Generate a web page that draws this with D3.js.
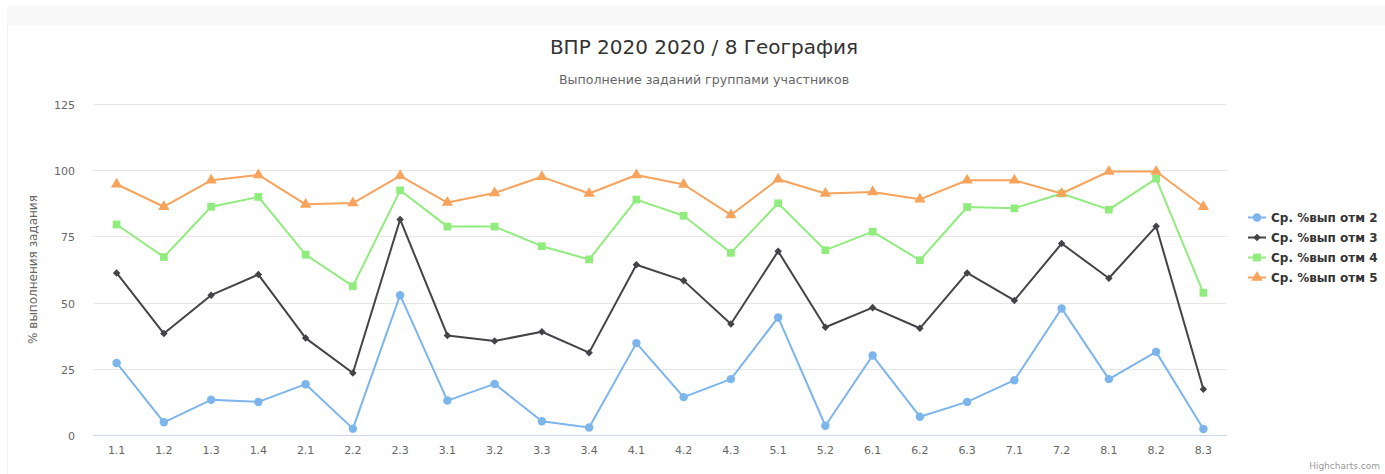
<!DOCTYPE html>
<html>
<head>
<meta charset="utf-8">
<script src="https://cdn.jsdelivr.net/npm/d3@7"></script>
<style>
  body { margin: 0; background: #fff; }
  text { font-family: "DejaVu Sans", "Lucida Grande", Arial, sans-serif; }
</style>
</head>
<body>
<div id="vis"></div>
<script>
// chart size
var width = 1385;
var height = 474;

// data
var categories = ["1.1","1.2","1.3","1.4","2.1","2.2","2.3","3.1","3.2","3.3","3.4","4.1","4.2","4.3","5.1","5.2","6.1","6.2","6.3","7.1","7.2","8.1","8.2","8.3"];
var mark2 = [27.2, 4.8, 13.3, 12.5, 19.2, 2.4, 52.8, 13.0, 19.3, 5.2, 2.8, 34.7, 14.3, 21.1, 44.4, 3.5, 30.0, 6.9, 12.5, 20.7, 47.8, 21.1, 31.4, 2.3];
var mark3 = [61.2, 38.3, 52.8, 60.6, 36.6, 23.4, 81.4, 37.6, 35.5, 39.0, 31.1, 64.3, 58.3, 41.9, 69.4, 40.7, 48.1, 40.3, 61.2, 50.8, 72.3, 59.2, 78.8, 17.3];
var mark4 = [79.5, 67.2, 86.2, 89.9, 68.1, 56.2, 92.4, 78.7, 78.7, 71.3, 66.3, 88.9, 82.8, 68.8, 87.5, 69.8, 76.8, 66.0, 86.1, 85.6, 91.2, 85.1, 96.8, 53.7];
var mark5 = [94.7, 86.2, 96.2, 98.2, 87.1, 87.6, 97.9, 87.8, 91.4, 97.5, 91.2, 98.2, 94.6, 83.1, 96.6, 91.2, 91.8, 89.0, 96.2, 96.2, 91.2, 99.5, 99.5, 86.2];
var yTicks = [0, 25, 50, 75, 100, 125];

var series = [
  {name: "Ср. %вып отм 2", values: mark2, color: "#7cb5ec", symbol: d3.symbolCircle, size: 56},
  {name: "Ср. %вып отм 3", values: mark3, color: "#434348", symbol: d3.symbolDiamond2, size: 36},
  {name: "Ср. %вып отм 4", values: mark4, color: "#90ed7d", symbol: d3.symbolSquare, size: 60},
  {name: "Ср. %вып отм 5", values: mark5, color: "#f7a35c", symbol: d3.symbolTriangle, size: 56}
];

var plot = {left: 93, right: 1227, top: 104, bottom: 435};

var svg = d3.select("#vis").append("svg")
  .attr("width", width)
  .attr("height", height);

// container frame
svg.append("rect")
  .attr("x", 7).attr("y", 6)
  .attr("width", width - 7).attr("height", 19)
  .attr("fill", "#f8f8f8");
svg.append("line")
  .attr("x1", 7.5).attr("x2", 7.5)
  .attr("y1", 25).attr("y2", height)
  .attr("stroke", "#f2f2f2");

// title and subtitle
svg.append("text")
  .attr("x", 704).attr("y", 54)
  .attr("text-anchor", "middle")
  .style("font-size", "20px")
  .attr("fill", "#333333")
  .text("ВПР 2020 2020 / 8 География");

svg.append("text")
  .attr("x", 704).attr("y", 84)
  .attr("text-anchor", "middle")
  .style("font-size", "12.6px")
  .attr("fill", "#666666")
  .text("Выполнение заданий группами участников");

// scales
var x = d3.scaleBand()
  .domain(categories)
  .range([plot.left, plot.right]);

var y = d3.scaleLinear()
  .domain([0, 125])
  .range([plot.bottom, plot.top]);

// grid lines
svg.append("g")
  .selectAll("line")
  .data(yTicks)
  .enter()
  .append("line")
  .attr("x1", plot.left).attr("x2", plot.right)
  .attr("y1", d => Math.round(y(d)) + 0.5)
  .attr("y2", d => Math.round(y(d)) + 0.5)
  .attr("stroke", d => d === 0 ? "#ccd6eb" : "#e6e6e6");

// y axis labels
var yAxis = svg.append("g")
  .attr("transform", "translate(" + (plot.left - 18) + ",0)")
  .call(d3.axisLeft(y).tickValues(yTicks).tickSize(0).tickPadding(0));
yAxis.select(".domain").remove();
yAxis.selectAll("text")
  .attr("fill", "#666666")
  .style("font-size", "11px")
  .attr("dy", "0.4em");

// x axis labels
var xAxis = svg.append("g")
  .attr("transform", "translate(0," + plot.bottom + ")")
  .call(d3.axisBottom(x).tickSize(0).tickPadding(11));
xAxis.select(".domain").remove();
xAxis.selectAll("text")
  .attr("fill", "#666666")
  .style("font-size", "11px");

// y axis title
svg.append("text")
  .attr("transform", "translate(37," + ((plot.top + plot.bottom) / 2) + ") rotate(-90)")
  .attr("text-anchor", "middle")
  .style("font-size", "12px")
  .attr("fill", "#666666")
  .text("% выполнения задания");

// lines and markers
var line = d3.line()
  .x((d, i) => x(categories[i]) + x.bandwidth() / 2)
  .y(d => y(d));

var groups = svg.append("g")
  .selectAll("g")
  .data(series)
  .enter()
  .append("g");

groups.append("path")
  .attr("d", d => line(d.values))
  .attr("fill", "none")
  .attr("stroke", d => d.color)
  .attr("stroke-width", 2)
  .attr("stroke-linejoin", "round");

groups.each(function(s) {
  d3.select(this).selectAll(".marker")
    .data(s.values)
    .enter()
    .append("path")
    .attr("class", "marker")
    .attr("d", d3.symbol().type(s.symbol).size(s.size))
    .attr("transform", (d, i) => "translate(" + (x(categories[i]) + x.bandwidth() / 2) + "," + y(d) + ")")
    .attr("fill", s.color);
});

// legend
var legend = svg.append("g")
  .selectAll("g")
  .data(series)
  .enter()
  .append("g")
  .attr("transform", (d, i) => "translate(1248," + (217.5 + i * 20) + ")");

legend.append("line")
  .attr("x1", 0).attr("x2", 18)
  .attr("stroke", d => d.color)
  .attr("stroke-width", 2);

legend.append("path")
  .attr("d", d => d3.symbol().type(d.symbol).size(d.size)())
  .attr("transform", "translate(9,0)")
  .attr("fill", d => d.color);

legend.append("text")
  .attr("x", 23)
  .attr("dy", "0.35em")
  .style("font-size", "12px")
  .style("font-weight", "bold")
  .attr("fill", "#333333")
  .text(d => d.name);

// credits
svg.append("text")
  .attr("x", 1380).attr("y", 469)
  .attr("text-anchor", "end")
  .style("font-size", "9px")
  .attr("fill", "#999999")
  .text("Highcharts.com");
</script>
</body>
</html>
